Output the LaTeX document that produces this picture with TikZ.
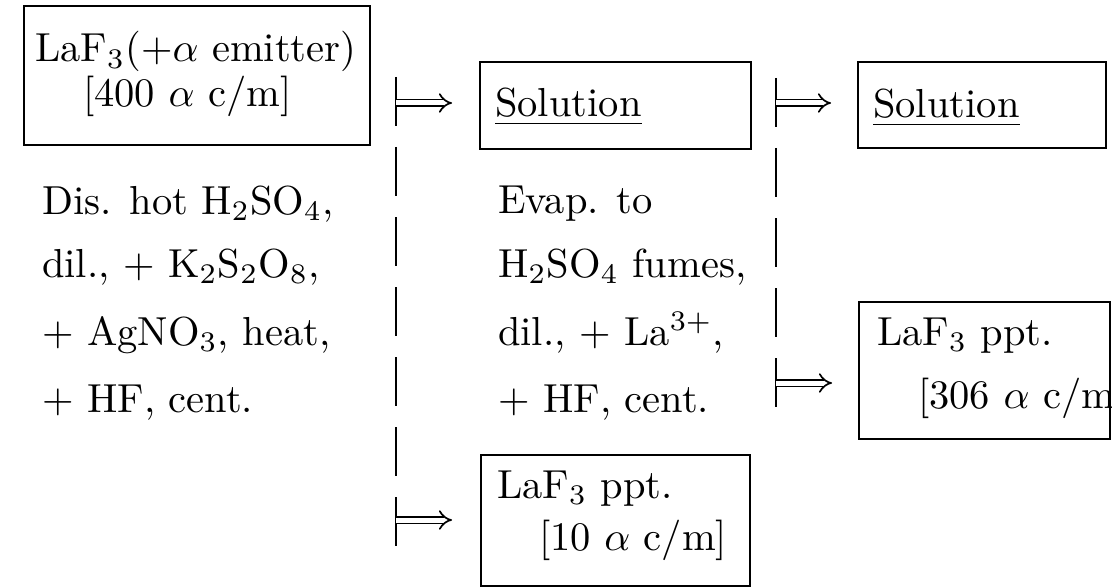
\documentclass[tikz,border=0pt]{standalone}
\usepackage{graphicx}
\usetikzlibrary{arrows.meta}
\newcommand\bigtxt[1]{\scalebox{4.05}{#1}}
\begin{document}
\begin{tikzpicture}[x=1pt,y=-1pt,
  box/.style={draw,line width=2pt,rectangle,inner sep=0pt},
  txt/.style={anchor=base west,inner sep=0pt,font=\fontsize{10}{12}\selectfont},
  dashline/.style={line width=2.4pt,dash pattern=on 49pt off 21pt},
  arr/.style={double,double distance=5pt,line width=1.7pt,-{Implies[length=9pt,width=16pt]}}]
\useasboundingbox (0,0) rectangle (1115,588);
% boxes
\node[box,minimum width=346pt,minimum height=139pt] (b1) at (197,75.5) {};
\node[box,minimum width=271pt,minimum height=87pt] (b2) at (615.5,105.5) {};
\node[box,minimum width=248pt,minimum height=86pt] (b3) at (982,105) {};
\node[box,minimum width=251pt,minimum height=137pt] (b4) at (984.5,370.5) {};
\node[box,minimum width=269pt,minimum height=131pt] (b5) at (615.5,520.5) {};
% box texts
\node[txt] (t1a) at (35,62) {\bigtxt{LaF$_3$(+$\alpha$ emitter)}};
\node[txt] (t1b) at (83,107) {\bigtxt{[400 $\alpha$ c/m]}};
\node[txt] (t2) at (495,117) {\bigtxt{\underline{Solution}}};
\node[txt] (t3) at (873,118) {\bigtxt{\underline{Solution}}};
\begin{scope}
\clip (b4.north west) rectangle (b4.south east);
\node[txt] (t4a) at (877,345) {\bigtxt{LaF$_3$ ppt.}};
\node[txt] (t4b) at (918,408) {\bigtxt{[306 $\alpha$ c/m]}};
\end{scope}
\node[txt] (t5a) at (497,498) {\bigtxt{LaF$_3$ ppt.}};
\node[txt] (t5b) at (539,550) {\bigtxt{[10 $\alpha$ c/m]}};
% step texts
\node[txt] (l1) at (42,214) {\bigtxt{Dis. hot H$_2$SO$_4$,}};
\node[txt] (l2) at (42,277) {\bigtxt{dil., + K$_2$S$_2$O$_8$,}};
\node[txt] (l3) at (42,345) {\bigtxt{+ AgNO$_3$, heat,}};
\node[txt] (l4) at (42,412) {\bigtxt{+ HF, cent.}};
\node[txt] (m1) at (498,213) {\bigtxt{Evap. to}};
\node[txt] (m2) at (498,277) {\bigtxt{H$_2$SO$_4$ fumes,}};
\node[txt] (m3) at (498,345) {\bigtxt{dil., + La$^{3+}$,}};
\node[txt] (m4) at (498,412) {\bigtxt{+ HF, cent.}};
% dashed separators
\coordinate (d1t) at (396,77);
\coordinate (d1b) at (396,546);
\coordinate (d2t) at (776,78);
\coordinate (d2b) at (776,407);
\draw[dashline] (d1t) -- (d1b);
\draw[dashline] (d2t) -- (d2b);
% arrows
\coordinate (a1) at (396,103);
\coordinate (a2) at (776,103);
\coordinate (a3) at (776,383);
\coordinate (a4) at (396,520);
\draw[arr,shorten >=27pt] (a1) -- (a1 -| b2.west);
\draw[arr,shorten >=26pt] (a2) -- (a2 -| b3.west);
\draw[arr,shorten >=26pt] (a3) -- (a3 -| b4.west);
\draw[arr,shorten >=28pt] (a4) -- (a4 -| b5.west);
\end{tikzpicture}
\end{document}
